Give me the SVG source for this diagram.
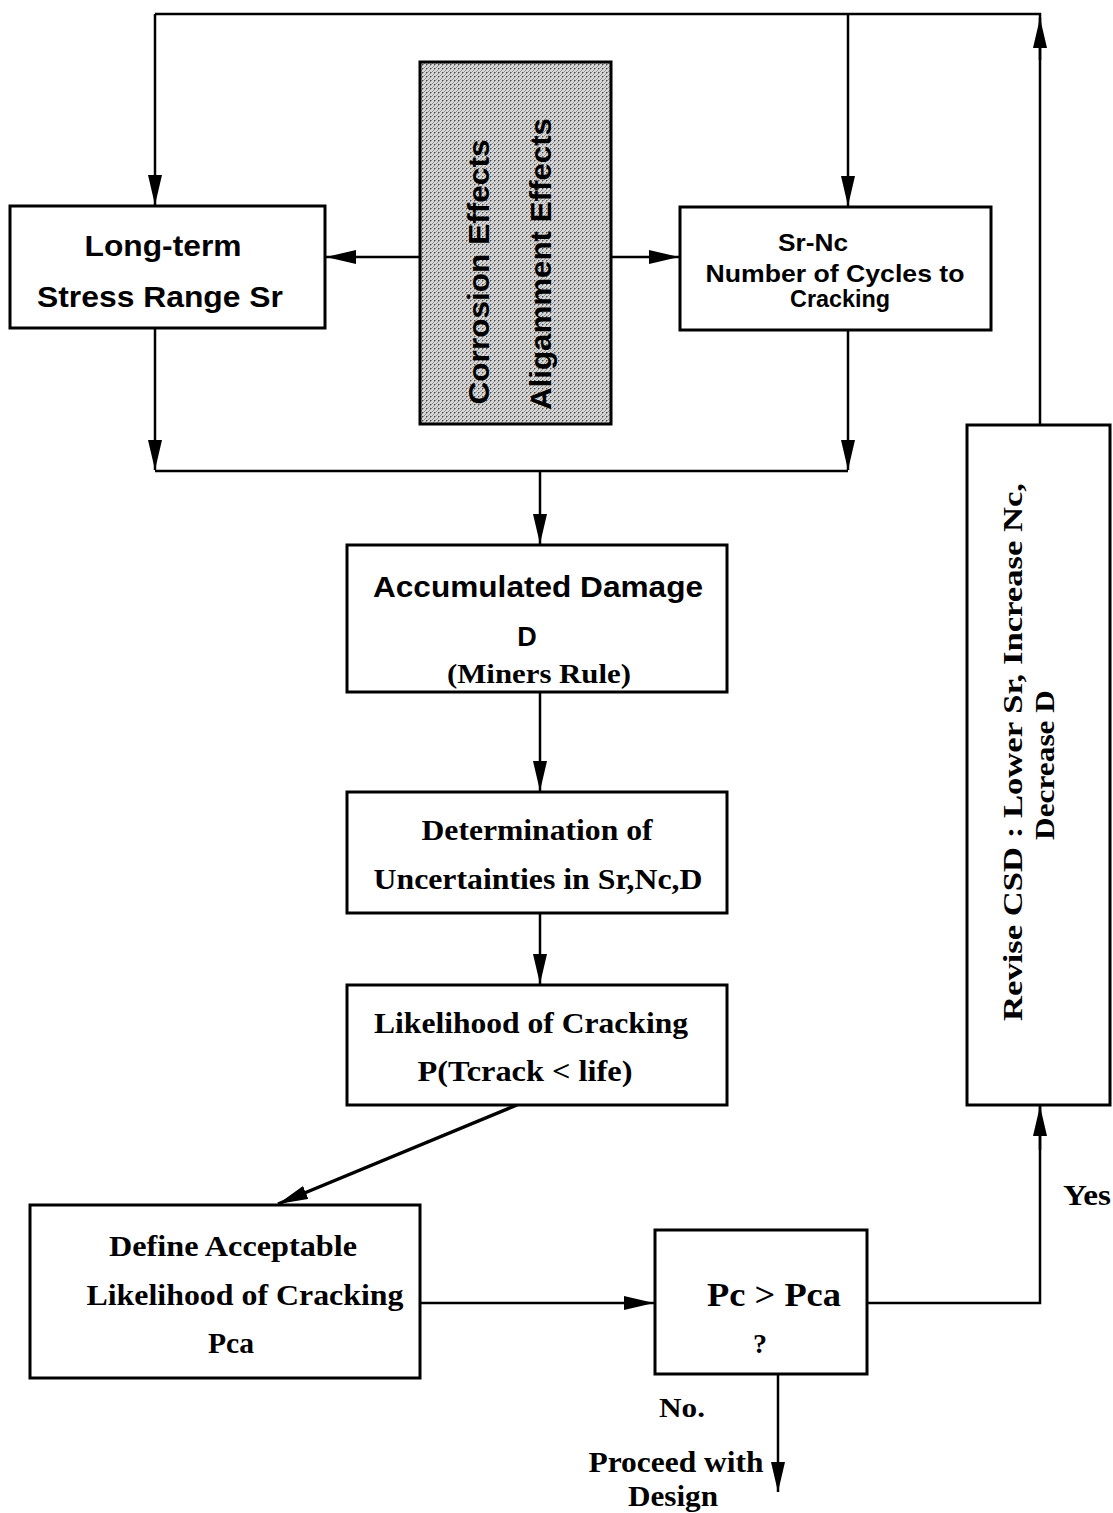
<svg xmlns="http://www.w3.org/2000/svg" width="1113" height="1513" viewBox="0 0 1113 1513">
  <style>
    .box { fill: #ffffff; stroke: #000; stroke-width: 3; }
    .line { fill: none; stroke: #000; stroke-width: 2.5; }
    .sans { font-family: "Liberation Sans", Arial, sans-serif; font-weight: bold; fill: #000; }
    .serif { font-family: "Liberation Serif", "Times New Roman", serif; font-weight: bold; fill: #000; }
  </style>
  <defs>
    <marker id="ah" viewBox="0 0 30 14" refX="30" refY="7" markerWidth="30" markerHeight="14" markerUnits="userSpaceOnUse" orient="auto">
      <path d="M0,0 L30,7 L0,14 Z" fill="#000"/>
    </marker>
    <!-- speckled grey halftone for the effects block -->
    <pattern id="dither" width="4" height="4" patternUnits="userSpaceOnUse">
      <rect width="4" height="4" fill="#d6d6d6"/>
      <path d="M0,4 L4,0" stroke="#707070" stroke-width="0.7"/>
      <rect x="2" y="0" width="1" height="1" fill="#444"/>
    </pattern>
  </defs>

  <rect width="1113" height="1513" fill="#ffffff"/>

  <!-- connectors -->
  <g id="connectors">
    <!-- feedback loop across the top -->
    <polyline class="line" points="1040,425 1040,14 155,14"/>
    <line class="line" x1="1040" y1="60" x2="1040" y2="18" marker-end="url(#ah)"/>
    <line class="line" x1="155" y1="14" x2="155" y2="205" marker-end="url(#ah)"/>
    <line class="line" x1="848" y1="14" x2="848" y2="206" marker-end="url(#ah)"/>
    <!-- effects to both input boxes -->
    <line class="line" x1="420" y1="257" x2="326" y2="257" marker-end="url(#ah)"/>
    <line class="line" x1="611" y1="257" x2="679" y2="257" marker-end="url(#ah)"/>
    <!-- merge into damage -->
    <line class="line" x1="155" y1="328" x2="155" y2="470" marker-end="url(#ah)"/>
    <line class="line" x1="848" y1="330" x2="848" y2="470" marker-end="url(#ah)"/>
    <line class="line" x1="155" y1="471" x2="848" y2="471"/>
    <line class="line" x1="540" y1="471" x2="540" y2="544" marker-end="url(#ah)"/>
    <line class="line" x1="540" y1="692" x2="540" y2="791" marker-end="url(#ah)"/>
    <line class="line" x1="540" y1="913" x2="540" y2="984" marker-end="url(#ah)"/>
    <line class="line" x1="517" y1="1105" x2="278" y2="1204" marker-end="url(#ah)" style="stroke-width:3.5"/>
    <line class="line" x1="420" y1="1303" x2="654" y2="1303" marker-end="url(#ah)"/>
    <polyline class="line" points="867,1303 1040,1303 1040,1106"/>
    <line class="line" x1="1040" y1="1150" x2="1040" y2="1106" marker-end="url(#ah)"/>
    <line class="line" x1="778" y1="1374" x2="778" y2="1492" marker-end="url(#ah)"/>
  </g>

  <!-- nodes -->
  <g id="node-stress-range">
    <rect class="box" x="10" y="206" width="315" height="122"/>
    <text class="sans" x="163" y="256" font-size="29" text-anchor="middle" textLength="157" lengthAdjust="spacingAndGlyphs">Long-term</text>
    <text class="sans" x="160" y="307" font-size="29" text-anchor="middle" textLength="246" lengthAdjust="spacingAndGlyphs">Stress Range Sr</text>
  </g>

  <g id="node-effects">
    <rect x="420" y="62" width="191" height="362" fill="url(#dither)" stroke="#000" stroke-width="3"/>
    <text class="sans" font-size="30" text-anchor="middle" transform="translate(489,272) rotate(-90)" textLength="265" lengthAdjust="spacingAndGlyphs">Corrosion Effects</text>
    <text class="sans" font-size="30" text-anchor="middle" transform="translate(551,264) rotate(-90)" textLength="292" lengthAdjust="spacingAndGlyphs">Aligamment Effects</text>
  </g>

  <g id="node-sr-nc">
    <rect class="box" x="680" y="207" width="311" height="123"/>
    <text class="sans" x="813" y="251" font-size="24" text-anchor="middle" textLength="70" lengthAdjust="spacingAndGlyphs">Sr-Nc</text>
    <text class="sans" x="835" y="282" font-size="24" text-anchor="middle" textLength="259" lengthAdjust="spacingAndGlyphs">Number of Cycles to</text>
    <text class="sans" x="840" y="307" font-size="24" text-anchor="middle" textLength="100" lengthAdjust="spacingAndGlyphs">Cracking</text>
  </g>

  <g id="node-damage">
    <rect class="box" x="347" y="545" width="380" height="147"/>
    <text class="sans" x="538" y="597" font-size="29" text-anchor="middle" textLength="330" lengthAdjust="spacingAndGlyphs">Accumulated Damage</text>
    <text class="sans" x="527" y="646" font-size="27" text-anchor="middle">D</text>
    <text class="serif" x="539" y="683" font-size="28" text-anchor="middle" textLength="184" lengthAdjust="spacingAndGlyphs">(Miners Rule)</text>
  </g>

  <g id="node-uncertainty">
    <rect class="box" x="347" y="792" width="380" height="121"/>
    <text class="serif" x="537" y="840" font-size="29" text-anchor="middle" textLength="231" lengthAdjust="spacingAndGlyphs">Determination of</text>
    <text class="serif" x="538" y="889" font-size="29" text-anchor="middle" textLength="329" lengthAdjust="spacingAndGlyphs">Uncertainties in Sr,Nc,D</text>
  </g>

  <g id="node-likelihood">
    <rect class="box" x="347" y="985" width="380" height="120"/>
    <text class="serif" x="531" y="1033" font-size="29" text-anchor="middle" textLength="314" lengthAdjust="spacingAndGlyphs">Likelihood of Cracking</text>
    <text class="serif" x="525" y="1081" font-size="29" text-anchor="middle" textLength="215" lengthAdjust="spacingAndGlyphs">P(Tcrack &lt; life)</text>
  </g>

  <g id="node-acceptable">
    <rect class="box" x="30" y="1205" width="390" height="173"/>
    <text class="serif" x="233" y="1256" font-size="29" text-anchor="middle" textLength="248" lengthAdjust="spacingAndGlyphs">Define Acceptable</text>
    <text class="serif" x="245" y="1305" font-size="29" text-anchor="middle" textLength="317" lengthAdjust="spacingAndGlyphs">Likelihood of Cracking</text>
    <text class="serif" x="231" y="1353" font-size="29" text-anchor="middle" textLength="46" lengthAdjust="spacingAndGlyphs">Pca</text>
  </g>

  <g id="node-decision">
    <rect class="box" x="655" y="1230" width="212" height="144"/>
    <text class="serif" x="774" y="1306" font-size="34" text-anchor="middle" textLength="134" lengthAdjust="spacingAndGlyphs">Pc &gt; Pca</text>
    <text class="serif" x="760" y="1353" font-size="28" text-anchor="middle">?</text>
    <text class="serif" x="682" y="1417" font-size="28" text-anchor="middle" textLength="46" lengthAdjust="spacingAndGlyphs">No.</text>
  </g>

  <g id="node-proceed">
    <text class="serif" x="676" y="1472" font-size="29" text-anchor="middle" textLength="175" lengthAdjust="spacingAndGlyphs">Proceed with</text>
    <text class="serif" x="673" y="1506" font-size="29" text-anchor="middle" textLength="90" lengthAdjust="spacingAndGlyphs">Design</text>
  </g>

  <g id="node-revise">
    <rect class="box" x="967" y="425" width="143" height="680"/>
    <text class="serif" font-size="27" text-anchor="middle" transform="translate(1022,752) rotate(-90)" textLength="538" lengthAdjust="spacingAndGlyphs">Revise CSD : Lower Sr, Increase Nc,</text>
    <text class="serif" font-size="27" text-anchor="middle" transform="translate(1054,765) rotate(-90)" textLength="150" lengthAdjust="spacingAndGlyphs">Decrease D</text>
    <text class="serif" x="1087" y="1205" font-size="29" text-anchor="middle" textLength="48" lengthAdjust="spacingAndGlyphs">Yes</text>
  </g>
</svg>
